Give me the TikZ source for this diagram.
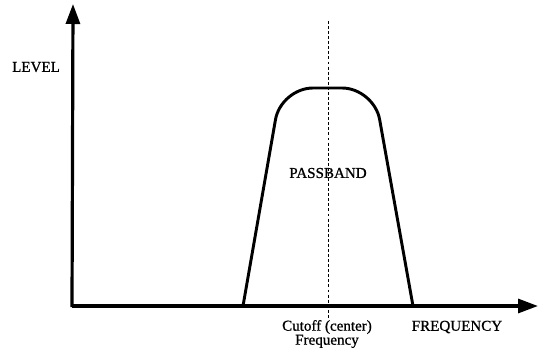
\documentclass[tikz,border=0pt]{standalone}
\usepackage{fontspec}
\setmainfont{Liberation Serif}
\newfontfamily\lblfont{Liberation Serif}[FakeBold=0.9]
\usetikzlibrary{arrows.meta}
\begin{document}
\begin{tikzpicture}[x=0.75pt,y=-0.75pt,
  axis/.style={line width=2.4pt,-{Triangle[length=15pt,width=10.5pt]}},
  curve/.style={line width=2.2pt,rounded corners=24pt},
  guide/.style={line width=0.6pt,dash pattern=on 2.2pt off 1.6pt},
  lbl/.style={font=\lblfont\fontsize{11.3}{12}\selectfont,inner sep=0pt,align=center}]
\useasboundingbox (0,0) rectangle (544,354);
\coordinate (o) at (73,306);
\coordinate (ytip) at (73,4);
\coordinate (xtip) at (538,306);
\coordinate (bl) at (243,306);
\coordinate (tl) at (281,88);
\coordinate (tr) at (374,88);
\coordinate (br) at (413,306);
\coordinate (dtop) at (328,21);
\coordinate (dbot) at (328,319);
\draw[guide] (dtop) -- (dbot);
\draw[curve] (bl) -- (tl) -- (tr) -- (br);
\draw[axis] (72,307.2) -- (ytip);
\draw[axis] (71.8,306) -- (xtip);
\node[lbl] (level) at (36,67) {LEVEL};
\node[lbl] (pass) at (328,173) {PASSBAND};
\node[lbl] (freq) at (457,327) {FREQUENCY};
\node[lbl] (cut) at (327,334) {Cutoff (center)\\[-1.5pt]Frequency};
\end{tikzpicture}
\end{document}
